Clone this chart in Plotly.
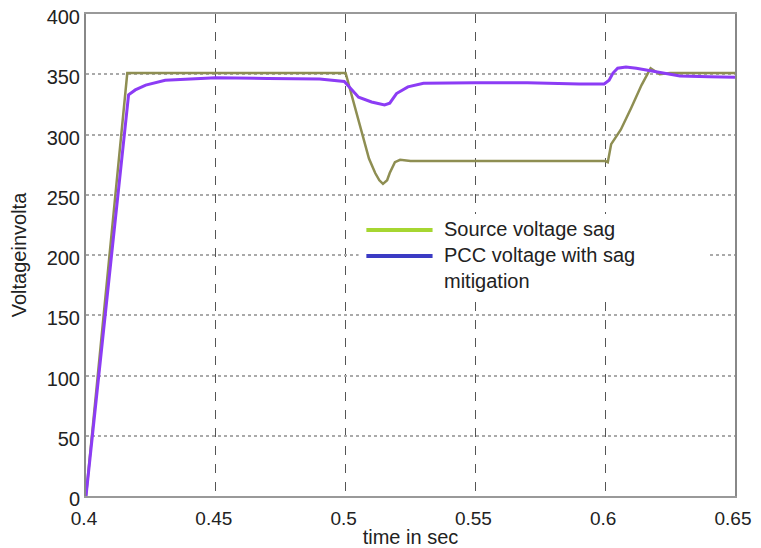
import plotly.graph_objects as go

# Source voltage (sag)
src_t = [0.4, 0.4159, 0.5, 0.502, 0.504, 0.5063, 0.509, 0.5114, 0.513, 0.5144, 0.516, 0.517,
         0.519, 0.521, 0.525, 0.6, 0.601, 0.6023, 0.6035, 0.606, 0.61, 0.614, 0.6175, 0.619,
         0.621, 0.625, 0.65]
src_v = [0, 351, 351, 335, 319, 301, 280, 268, 262, 259, 262, 268,
         277, 279, 278, 278, 277, 292, 296, 304, 322, 341, 355, 353,
         350, 351, 351]

# PCC voltage with sag mitigation
pcc_t = [0.4, 0.4164, 0.419, 0.423, 0.4305, 0.44, 0.45, 0.47, 0.49, 0.4995, 0.502, 0.505,
         0.51, 0.515, 0.517, 0.5196, 0.524, 0.53, 0.55, 0.57, 0.59, 0.5996, 0.6015, 0.603,
         0.6048, 0.608, 0.612, 0.616, 0.62, 0.625, 0.6288, 0.64, 0.65]
pcc_v = [0, 333, 337, 341, 345, 346, 347, 346.5, 346, 344, 338, 331,
         327, 324.5, 326, 334, 339.5, 342.5, 343, 343, 342, 342, 345, 351,
         355, 356, 355, 353.5, 352, 350, 348.5, 348, 347.5]

x_ticks = [0.4, 0.45, 0.5, 0.55, 0.6, 0.65]
x_labels = ["0.4", "0.45", "0.5", "0.55", "0.6", "0.65"]
y_ticks = [0, 50, 100, 150, 200, 250, 300, 350, 400]

legend_names = ["Source voltage sag", "PCC voltage with sag<br>mitigation"]
legend_colors = ["#a6d631", "#3b3bc4"]

fig = go.Figure()
fig.add_trace(go.Scatter(x=src_t, y=src_v, mode="lines",
                         line=dict(color="#8e8e52", width=2.5), showlegend=False))
fig.add_trace(go.Scatter(x=pcc_t, y=pcc_v, mode="lines",
                         line=dict(color="#8c3cf5", width=3), showlegend=False))

font = "Liberation Sans, Arial, sans-serif"
fs = 20

# page body has an 8px default margin, so the figure is sized 8px smaller
fig.update_layout(
    width=753, height=540,
    margin=dict(l=78, r=26, t=6, b=52),
    paper_bgcolor="white", plot_bgcolor="white",
    font=dict(family=font, size=fs, color="#222"),
    xaxis=dict(range=[0.4, 0.65], tickvals=x_ticks, ticktext=x_labels, automargin=False,
               ticklabeloverflow="allow", ticklabelshift=-2,
               showgrid=True, gridcolor="#555", griddash="dash", gridwidth=1,
               showline=True, linecolor="#999", linewidth=2, mirror=True,
               zeroline=False, ticks="outside", ticklen=4, tickcolor="rgba(0,0,0,0)",
               tickfont=dict(size=19),
               title=dict(text="time in sec", font=dict(size=fs), standoff=0)),
    yaxis=dict(range=[0, 400], tickvals=y_ticks, automargin=False,
               ticklabeloverflow="allow", ticklabelshift=3,
               showgrid=True, gridcolor="#aaa", griddash="dot", gridwidth=2,
               showline=True, linecolor="#888", linewidth=2, mirror=True,
               zeroline=False, ticks="", tickfont=dict(size=fs),
               title=dict(text="Voltageinvolta", font=dict(size=fs), standoff=16)),
)

# manual legend
fig.add_shape(type="rect", xref="paper", yref="paper", x0=0.42, x1=0.96, y0=0.42, y1=0.585,
              fillcolor="white", line=dict(width=0), layer="above")
ys = [0.552, 0.498]
for name, col, yy in zip(legend_names, legend_colors, ys):
    fig.add_shape(type="line", xref="paper", yref="paper", x0=0.432, x1=0.534, y0=yy, y1=yy,
                  line=dict(color=col, width=4), layer="above")
    fig.add_annotation(xref="paper", yref="paper", x=0.549, y=yy + 0.028, xanchor="left",
                       yanchor="top", text=name, showarrow=False, align="left",
                       font=dict(family=font, size=fs, color="#222"))

fig.write_html("out.html")
